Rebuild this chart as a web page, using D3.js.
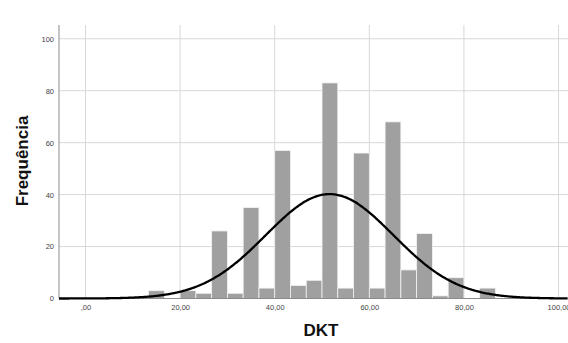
<!DOCTYPE html>
<html>
<head>
<meta charset="utf-8">
<script src="https://cdn.jsdelivr.net/npm/d3@7"></script>
<style>
  html, body { margin: 0; padding: 0; background: #fff; }
  svg { display: block; font-family: "Liberation Sans", Arial, sans-serif; }
</style>
</head>
<body>
<svg id="chart" width="568" height="343"></svg>
<script>
// Histogram of DKT scores: bins of width 10/3 starting at 40/3
const binStarts = [13.333, 16.667, 20, 23.333, 26.667, 30, 33.333, 36.667, 40, 43.333,
                   46.667, 50, 53.333, 56.667, 60, 63.333, 66.667, 70, 73.333, 76.667,
                   80, 83.333];
const binWidth = 10 / 3;
const counts = [3, 0, 3, 2, 26, 2, 35, 4, 57, 5,
                7, 83, 4, 56, 4, 68, 11, 25, 1, 8,
                0, 4];
const xTicks = [0, 20, 40, 60, 80, 100];
const xTickLabels = [",00", "20,00", "40,00", "60,00", "80,00", "100,00"];
const yTicks = [0, 20, 40, 60, 80, 100];
// Fitted normal curve parameters
const MEAN = 51.6;
const SD = 13.5;
const N = d3.sum(counts);

const svg = d3.select("#chart");
const plotLeft = 59, plotRight = 568, plotTop = 25, plotBottom = 298.5;

const x = d3.scaleLinear().domain([-5.6, 102]).range([plotLeft, plotRight]);
const y = d3.scaleLinear().domain([0, 105.3]).range([plotBottom, plotTop]);

// Grid lines
const grid = svg.append("g");
grid.selectAll("line.h").data(yTicks.slice(1)).join("line")
  .attr("class", "h")
  .attr("x1", plotLeft).attr("x2", plotRight)
  .attr("y1", d => y(d)).attr("y2", d => y(d))
  .attr("stroke", "#d8d8d8").attr("stroke-width", 1);
grid.selectAll("line.v").data(xTicks).join("line")
  .attr("class", "v")
  .attr("x1", d => x(d)).attr("x2", d => x(d))
  .attr("y1", plotTop).attr("y2", plotBottom)
  .attr("stroke", "#d8d8d8").attr("stroke-width", 1);

// Bars
svg.append("g").selectAll("rect")
  .data(binStarts.map((s, i) => ({ s, c: counts[i] })).filter(d => d.c > 0))
  .join("rect")
  .attr("x", d => x(d.s))
  .attr("width", d => x(d.s + binWidth) - x(d.s))
  .attr("y", d => y(d.c))
  .attr("height", d => y(0) - y(d.c))
  .attr("fill", "#a0a0a0")
  .attr("stroke", "#f2f2f2")
  .attr("stroke-width", 0.8);

// Axis lines
svg.append("line").attr("x1", plotLeft).attr("x2", plotLeft).attr("y1", plotTop).attr("y2", plotBottom)
  .attr("stroke", "#8c8c8c").attr("stroke-width", 1);
svg.append("line").attr("x1", plotLeft).attr("x2", plotRight).attr("y1", plotBottom).attr("y2", plotBottom)
  .attr("stroke", "#8c8c8c").attr("stroke-width", 1);

// Normal curve scaled to frequency
const pdf = v => Math.exp(-0.5 * ((v - MEAN) / SD) ** 2) / (SD * Math.sqrt(2 * Math.PI));
const pts = d3.range(-5.6, 102.01, 0.25).map(v => [v, N * binWidth * pdf(v)]);
svg.append("path")
  .attr("d", d3.line().x(d => x(d[0])).y(d => y(d[1])).curve(d3.curveBasis)(pts))
  .attr("fill", "none").attr("stroke", "#000").attr("stroke-width", 2.3);

// Tick labels
const yAxis = d3.axisLeft(y).tickValues(yTicks).tickSize(0).tickPadding(5).tickFormat(d3.format("d"));
const gy = svg.append("g").attr("transform", `translate(${plotLeft},0)`).call(yAxis);
gy.select(".domain").remove();
gy.selectAll("text").attr("font-size", 7.5).attr("fill", "#444").attr("font-family", "Liberation Sans, Arial, sans-serif");

const xAxis = d3.axisBottom(x).tickValues(xTicks).tickSize(0).tickPadding(6)
  .tickFormat((d, i) => xTickLabels[i]);
const gx = svg.append("g").attr("transform", `translate(0,${plotBottom})`).call(xAxis);
gx.select(".domain").remove();
gx.selectAll("text").attr("font-size", 7.5).attr("fill", "#444").attr("font-family", "Liberation Sans, Arial, sans-serif");

// Axis titles
svg.append("text").attr("x", 321).attr("y", 336)
  .attr("text-anchor", "middle").attr("font-weight", "bold").attr("font-size", 17)
  .attr("fill", "#111").text("DKT");
svg.append("text").attr("transform", "translate(28,161) rotate(-90)")
  .attr("text-anchor", "middle").attr("font-weight", "bold").attr("font-size", 17)
  .attr("fill", "#111").text("Frequência");
</script>
</body>
</html>
